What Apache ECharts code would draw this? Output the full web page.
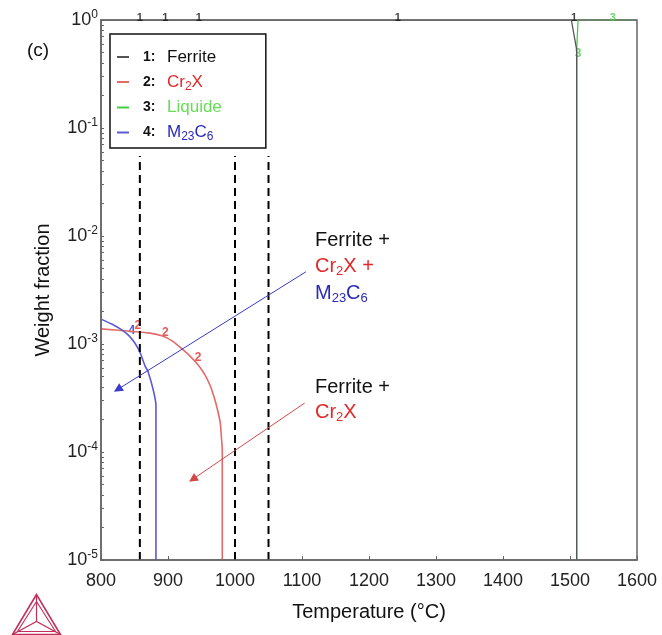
<!DOCTYPE html>
<html>
<head>
<meta charset="utf-8">
<script src="https://cdn.jsdelivr.net/npm/echarts@6/dist/echarts.min.js"></script>
<style>html,body{margin:0;padding:0;background:#fff}#c{width:662px;height:635px}</style>
</head>
<body>
<div id="c"></div>
<script>
// ---- data ----
const xTicks = [800, 900, 1000, 1100, 1200, 1300, 1400, 1500, 1600];
const yDecades = [1e-5, 1e-4, 1e-3, 1e-2, 1e-1, 1];

const ferriteT = [800, 1502, 1510, 1510];
const ferriteW = [1, 1, 0.53, 1e-5];

const liquidT = [1510, 1510, 1512, 1600];
const liquidW = [1e-5, 0.53, 1, 1];

const cr2xT = [800, 840, 873, 891, 906, 921, 934, 945, 955, 963, 969, 974, 978, 980, 981, 981];
const cr2xW = [1.38e-3, 1.32e-3, 1.26e-3, 1.19e-3, 1.07e-3, 9.0e-4, 7.6e-4, 6.4e-4, 5.2e-4, 4.1e-4, 3.2e-4, 2.45e-4, 1.86e-4, 1.29e-4, 1.05e-4, 1e-5];

const m23T = [800, 816, 831, 842, 851, 858, 866, 870, 878, 882, 882];
const m23W = [1.7e-3, 1.53e-3, 1.35e-3, 1.19e-3, 1.01e-3, 8.4e-4, 6.2e-4, 5.6e-4, 3.75e-4, 2.7e-4, 1e-5];

const dashT = [858, 1000, 1050];
const dashW = [1e-5, 0.055];

const topLabelT = [858, 896, 946, 1243, 1506, 1564];
const topLabelText = ['1', '1', '1', '1', '1', '3'];

const curveLabelT = [855, 896, 945, 846, 1512];
const curveLabelW = [1.47e-3, 1.26e-3, 7.5e-4, 1.33e-3, 0.49];
const curveLabelText = ['2', '2', '2', '4', '3'];

const arrowBlue = [[1106, 4.67e-3], [825, 3.8e-4]];
const arrowRed = [[1104, 2.84e-4], [937, 5.6e-5]];

// ---- style ----
const FONT = 'Liberation Sans, Arial, sans-serif';
const C_FER = '#555555', C_CR = '#e46a6a', C_LIQ = '#44cc44', C_M = '#5a5ad6';
const T_RED = '#e02a2a', T_BLUE = '#2a2ab8', T_GREEN = '#66dd55';

const zip = (a, b) => a.map((v, i) => [v, b[i]]);
const minorVals = [];
for (let e = -5; e < 0; e++) for (let m = 1; m <= 9; m++) minorVals.push(+(m * Math.pow(10, e)).toPrecision(3));
minorVals.push(1);

const labelColors = { '1': '#111', '2': '#e03030', '3': '#44cc44', '4': '#2a2ad0' };

const chart = echarts.init(document.getElementById('c'), null, { renderer: 'canvas' });

const legendNames = {
  'Ferrite': '{n|1:}{k|Ferrite}',
  'Cr2X': '{n|2:}{r|Cr}{rs|2}{r|X}',
  'Liquide': '{n|3:}{g|Liquide}',
  'M23C6': '{n|4:}{b|M}{bs|23}{b|C}{bs|6}'
};

const option = {
  animation: false,
  backgroundColor: '#fff',
  textStyle: { fontFamily: FONT },
  grid: { left: 101, right: 25, top: 20, bottom: 75, show: true, borderColor: '#666', borderWidth: 1.5,
    backgroundColor: 'transparent', z: 5 },
  legend: {
    data: ['Ferrite', 'Cr2X', 'Liquide', 'M23C6'],
    orient: 'vertical', left: 110, top: 34,
    padding: [13, 44, 5, 7],
    borderColor: '#111', borderWidth: 1.5,
    icon: 'rect', itemWidth: 12, itemHeight: 2, itemGap: 5,
    selectedMode: false,
    formatter: n => legendNames[n],
    textStyle: {
      fontFamily: FONT, fontSize: 17, lineHeight: 20,
      rich: {
        n: { fontFamily: FONT, fontSize: 14, fontWeight: 'bold', color: '#111', width: 24, padding: [0, 0, 0, 9] },
        k: { fontFamily: FONT, fontSize: 17, color: '#111' },
        r: { fontFamily: FONT, fontSize: 17, color: T_RED },
        rs: { fontFamily: FONT, fontSize: 12, color: T_RED, padding: [9, 0, 0, 0] },
        g: { fontFamily: FONT, fontSize: 17, color: T_GREEN },
        b: { fontFamily: FONT, fontSize: 17, color: T_BLUE },
        bs: { fontFamily: FONT, fontSize: 12, color: T_BLUE, padding: [9, 0, 0, 0] }
      }
    }
  },
  xAxis: {
    type: 'value', min: 800, max: 1600, interval: 100,
    name: 'Temperature (°C)', nameLocation: 'middle', nameGap: 42,
    nameTextStyle: { fontFamily: FONT, fontSize: 20, color: '#111' },
    axisLine: { lineStyle: { color: '#666', width: 1.5 } },
    axisTick: { inside: true, length: 4, lineStyle: { color: '#666' } },
    splitLine: { show: false },
    axisLabel: { fontFamily: FONT, fontSize: 18, color: '#222', margin: 12,
      customValues: xTicks, formatter: v => String(v) }
  },
  yAxis: {
    type: 'log', logBase: 10, min: 1e-5, max: 1,
    name: 'Weight fraction', nameLocation: 'middle', nameGap: 48,
    nameTextStyle: { fontFamily: FONT, fontSize: 20, color: '#111' },
    axisLine: { lineStyle: { color: '#666', width: 1.5 } },
    axisTick: { inside: true, length: 3, lineStyle: { color: '#666' }, customValues: minorVals },
    splitLine: { show: false },
    axisLabel: {
      margin: 3, customValues: yDecades,
      formatter: v => '{b|10}{s|' + Math.round(Math.log10(v)) + '}',
      rich: {
        b: { fontFamily: FONT, fontSize: 18, color: '#222' },
        s: { fontFamily: FONT, fontSize: 12, color: '#222', padding: [0, 0, 10, 0] }
      }
    }
  },
  series: [
    { name: 'Liquide', type: 'line', data: zip(liquidT, liquidW), showSymbol: false, symbol: 'none',
      lineStyle: { color: C_LIQ, width: 1.3 }, itemStyle: { color: C_LIQ } },
    { name: 'Ferrite', type: 'line', data: zip(ferriteT, ferriteW), showSymbol: false, symbol: 'none',
      lineStyle: { color: C_FER, width: 1.3 }, itemStyle: { color: C_FER } },
    { name: 'Cr2X', type: 'line', data: zip(cr2xT, cr2xW), showSymbol: false, symbol: 'none', smooth: 0.2,
      lineStyle: { color: C_CR, width: 1.6 }, itemStyle: { color: C_CR } },
    { name: 'M23C6', type: 'line', data: zip(m23T, m23W), showSymbol: false, symbol: 'none', smooth: 0.2,
      lineStyle: { color: C_M, width: 1.6 }, itemStyle: { color: C_M } },
    ...dashT.map(t => ({
      name: 'dash' + t, type: 'line', data: dashW.map(w => [t, w]), symbol: 'none', silent: true,
      lineStyle: { color: '#000', width: 2, type: [8, 5] }
    })),
    {
      name: 'arrows', type: 'line', data: [], silent: true,
      markLine: {
        silent: true, symbol: ['none', 'triangle'], symbolSize: 9,
        label: { show: false },
        data: [
          [{ coord: arrowBlue[0], lineStyle: { color: '#3a3ad0', width: 1, type: 'solid' }, itemStyle: { color: '#1a1ae0' } },
           { coord: arrowBlue[1] }],
          [{ coord: arrowRed[0], lineStyle: { color: '#d04a4a', width: 1, type: 'solid' }, itemStyle: { color: '#e01a1a' } },
           { coord: arrowRed[1] }]
        ]
      }
    },
    {
      name: 'toplabels', type: 'scatter', symbolSize: 0, clip: false, silent: true, z: 10,
      data: topLabelT.map((t, i) => ({ value: [t, 1], name: topLabelText[i] })),
      label: { show: true, position: 'inside', offset: [0, -2], fontFamily: FONT, fontSize: 11, fontWeight: 'bold',
        formatter: p => p.name, color: '#111' },
      itemStyle: { color: 'transparent' }
    },
    {
      name: 'curvelabels', type: 'scatter', symbolSize: 0, clip: false, silent: true,
      data: curveLabelT.map((t, i) => ({ value: [t, curveLabelW[i]], name: curveLabelText[i] })),
      label: { show: true, position: 'inside', fontFamily: FONT, fontSize: 12, fontWeight: 'bold',
        formatter: p => p.name },
      itemStyle: { color: 'transparent' }
    }
  ],
  graphic: [
    { type: 'text', left: 27, top: 41, style: { text: '(c)', font: '19px ' + FONT, fill: '#111' } },
    { type: 'text', left: 315, top: 230, style: {
      text: '{k|Ferrite +}\n{r|Cr}{rs|2}{r|X +}\n{b|M}{bs|23}{b|C}{bs|6}',
      rich: {
        k: { fontFamily: FONT, fontSize: 20, fill: '#111', lineHeight: 26.5 },
        r: { fontFamily: FONT, fontSize: 20, fill: T_RED, lineHeight: 26.5 },
        rs: { fontFamily: FONT, fontSize: 13, fill: T_RED, padding: [10, 0, 0, 0] },
        b: { fontFamily: FONT, fontSize: 20, fill: T_BLUE, lineHeight: 26.5 },
        bs: { fontFamily: FONT, fontSize: 13, fill: T_BLUE, padding: [10, 0, 0, 0] }
      } } },
    { type: 'text', left: 315, top: 377, style: {
      text: '{k|Ferrite +}\n{r|Cr}{rs|2}{r|X}',
      rich: {
        k: { fontFamily: FONT, fontSize: 20, fill: '#111', lineHeight: 25 },
        r: { fontFamily: FONT, fontSize: 20, fill: T_RED, lineHeight: 25 },
        rs: { fontFamily: FONT, fontSize: 13, fill: T_RED, padding: [10, 0, 0, 0] }
      } } },
    { type: 'group', left: 10, top: 592, children: [
      { type: 'polygon', shape: { points: [[24, 0], [0, 40], [48, 40]] }, style: { fill: 'none', stroke: '#c0305a', lineWidth: 1.6 } },
      { type: 'polygon', shape: { points: [[24, 7], [5, 37], [43, 37]] }, style: { fill: 'none', stroke: '#c0305a', lineWidth: 1.1 } },
      { type: 'polyline', shape: { points: [[24, 0], [24, 27]] }, style: { fill: 'none', stroke: '#c0305a', lineWidth: 1.2 } },
      { type: 'polyline', shape: { points: [[0, 40], [24, 27], [48, 40]] }, style: { fill: 'none', stroke: '#c0305a', lineWidth: 1.2 } }
    ] }
  ]
};

option.series[option.series.length - 1].data.forEach(d => { d.label = { color: labelColors[d.name] }; });
option.series[option.series.length - 2].data.forEach(d => { d.label = { color: labelColors[d.name] }; });

chart.setOption(option);
</script>
</body>
</html>
